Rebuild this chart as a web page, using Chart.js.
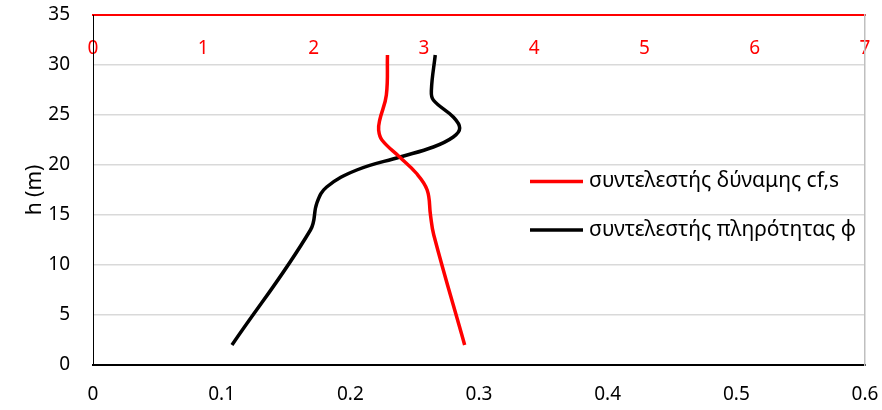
<!DOCTYPE html>
<html>
<head>
<meta charset="utf-8">
<script src="https://cdn.jsdelivr.net/npm/chart.js@4/dist/chart.umd.min.js"></script>
<style>
  html, body { margin: 0; padding: 0; background: #fff; }
  #wrap { width: 882px; height: 410px; }
</style>
</head>
<body>
<div id="wrap"><canvas id="chart" width="882" height="410"></canvas></div>
<script>
const cfHeights = [31, 27, 24.5, 23.5, 22.5, 20.8, 19.2, 17.5, 15, 13, 2];
const cfValues = [2.67, 2.66, 2.60, 2.59, 2.62, 2.78, 2.93, 3.03, 3.06, 3.09, 3.37];

const phiHeights = [31, 27.5, 26.5, 24.8, 23.7, 22.8, 21.8, 20.8, 19.5, 17.8, 16.2, 13.5, 2];
const phiValues = [0.266, 0.263, 0.2645, 0.280, 0.285, 0.280, 0.2645, 0.2386, 0.205, 0.1816, 0.174, 0.169, 0.108];

const yTicks = ['0', '5', '10', '15', '20', '25', '30', '35'];
const phiTicks = ['0', '0.1', '0.2', '0.3', '0.4', '0.5', '0.6'];
const cfTicks = ['0', '1', '2', '3', '4', '5', '6', '7'];

const seriesLabels = ['συντελεστής δύναμης cf,s', 'συντελεστής πληρότητας φ'];

const FONT = 'Noto Sans';

const legendPlugin = {
    id: 'sideLegend',
    afterDatasetsDraw(chart) {
        const { ctx } = chart;
        const rows = [181.5, 230];
        ctx.save();
        ctx.font = `21px "${FONT}"`;
        ctx.textBaseline = 'middle';
        ctx.fillStyle = '#000';
        chart.data.datasets.forEach((ds, i) => {
            ctx.strokeStyle = ds.borderColor;
            ctx.lineWidth = 3.5;
            ctx.beginPath();
            ctx.moveTo(530, rows[i]);
            ctx.lineTo(583, rows[i]);
            ctx.stroke();
            ctx.fillText(ds.label, 589, rows[i]);
        });
        ctx.restore();
    }
};

// keep the plot area fixed: the tick padding should not push the chart area in
const noPad = s => { s.paddingTop = 0; s.paddingBottom = 0; s.paddingLeft = 0; s.paddingRight = 0; };

new Chart(document.getElementById('chart'), {
    type: 'scatter',
    data: {
        datasets: [{
            label: seriesLabels[0],
            data: cfHeights.map((h, i) => ({ x: cfValues[i], y: h })),
            xAxisID: 'x2',
            showLine: true,
            borderColor: '#ff0000',
            borderWidth: 3.5,
            pointRadius: 0,
            tension: 0.4
        }, {
            label: seriesLabels[1],
            data: phiHeights.map((h, i) => ({ x: phiValues[i], y: h })),
            xAxisID: 'x',
            showLine: true,
            borderColor: '#000000',
            borderWidth: 3.5,
            pointRadius: 0,
            tension: 0.4
        }]
    },
    options: {
        responsive: false,
        animation: false,
        layout: { padding: { top: 0, left: 0, right: 17, bottom: 0 } },
        plugins: {
            legend: { display: false },
            tooltip: { enabled: false }
        },
        scales: {
            x: {
                position: 'bottom',
                min: 0,
                max: 0.6,
                ticks: {
                    stepSize: 0.1,
                    padding: 18,
                    color: '#000',
                    font: { family: FONT, size: 19 },
                    callback: (v, i) => phiTicks[i]
                },
                grid: { display: false, drawTicks: false },
                border: { color: '#000', width: 2 },
                afterFit: s => { s.height = 45; noPad(s); }
            },
            x2: {
                position: 'top',
                min: 0,
                max: 7,
                ticks: {
                    stepSize: 1,
                    padding: 22,
                    mirror: true,
                    color: '#ff0000',
                    font: { family: FONT, size: 19 },
                    callback: (v, i) => cfTicks[i]
                },
                grid: { display: false, drawTicks: false },
                border: { color: '#ff0000', width: 2 },
                afterFit: s => { s.height = 15; noPad(s); }
            },
            y: {
                position: 'left',
                min: 0,
                max: 35,
                ticks: {
                    stepSize: 5,
                    padding: 23,
                    color: '#000',
                    font: { family: FONT, size: 19 },
                    callback: (v, i) => yTicks[i]
                },
                title: {
                    display: true,
                    text: 'h (m)',
                    color: '#000',
                    font: { family: FONT, size: 21 },
                    padding: { top: 22, bottom: 0 }
                },
                grid: {
                    drawTicks: false,
                    lineWidth: 1.5,
                    color: c => (c.tick && (c.tick.value === 0 || c.tick.value === 35)) ? 'rgba(0,0,0,0)' : '#d9d9d9'
                },
                border: { color: '#000', width: 1 },
                afterFit: s => { s.width = 93; noPad(s); }
            },
            y2: {
                position: 'right',
                min: 0,
                max: 35,
                ticks: { display: false },
                grid: { display: false, drawTicks: false },
                border: { color: '#bfbfbf', width: 1.5 },
                afterFit: s => { s.width = 0; noPad(s); }
            }
        }
    },
    plugins: [legendPlugin]
});
</script>
</body>
</html>
